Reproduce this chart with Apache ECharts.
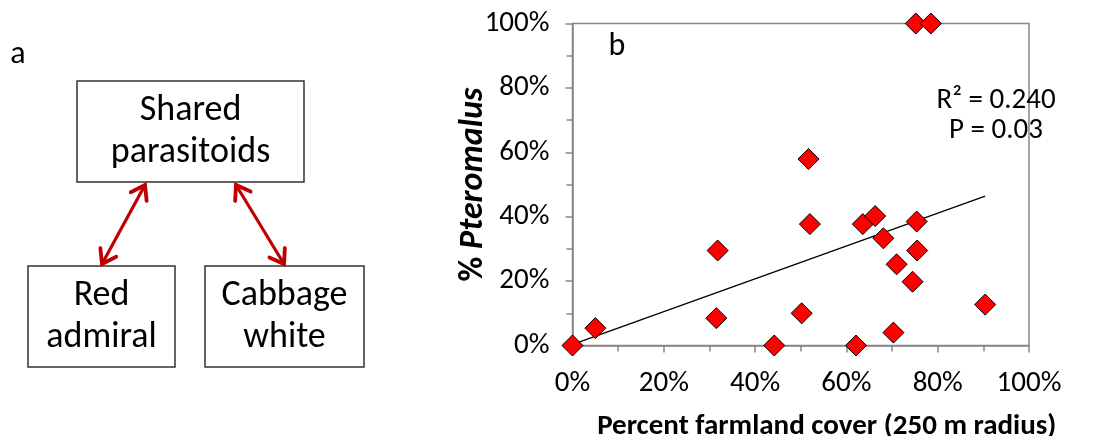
<!DOCTYPE html>
<html>
<head>
<meta charset="utf-8">
<script src="https://cdn.jsdelivr.net/npm/echarts@6/dist/echarts.min.js"></script>
<style>
html,body{margin:0;padding:0;background:#fff;}
#c{width:1113px;height:436px;}
</style>
</head>
<body>
<div id="c"></div>
<script>
// ---- data ----
var farmland = [0.000, 0.050, 0.318, 0.315, 0.442, 0.502, 0.517, 0.520, 0.621, 0.636, 0.663, 0.681, 0.703, 0.710, 0.745, 0.754, 0.755, 0.752, 0.785, 0.904];
var pteromalus = [0.000, 0.054, 0.295, 0.085, 0.000, 0.100, 0.579, 0.377, 0.000, 0.377, 0.402, 0.333, 0.040, 0.252, 0.198, 0.385, 0.295, 1.000, 1.000, 0.127];
var trendX = [0.002, 0.904];
var trendY = [0.004, 0.464];
var xTicks = ['0%', '20%', '40%', '60%', '80%', '100%'];
var yTicks = ['0%', '20%', '40%', '60%', '80%', '100%'];
var statsLines = ['R² = 0.240', 'P = 0.03'];
var panelA = 'a', panelB = 'b';
var boxTop = ['Shared', 'parasitoids'];
var boxLeft = ['Red', 'admiral'];
var boxRight = ['Cabbage', 'white'];
var xTitle = 'Percent farmland cover (250 m radius)';
var yTitlePre = '% ', yTitleItalic = 'Pteromalus';

var FONT = 'Carlito, Lato, sans-serif';
var chart = echarts.init(document.getElementById('c'));

var points = farmland.map(function (x, i) { return [x, pteromalus[i]]; });
var trend = trendX.map(function (x, i) { return [x, trendY[i]]; });

function pctLabel(list) {
  return function (v) { var i = Math.round(v * 5); return list[i] !== undefined ? list[i] : ''; };
}

var RED = '#c00000';
function arrow(x1, y1, x2, y2) {
  var els = [];
  els.push({ type: 'line', shape: { x1: x1, y1: y1, x2: x2, y2: y2 }, style: { stroke: RED, lineWidth: 3.2, lineCap: 'round' } });
  function head(tx, ty, fx, fy) {
    var dx = fx - tx, dy = fy - ty, L = Math.sqrt(dx * dx + dy * dy);
    dx /= L; dy /= L;
    var len = 16, a = 0.6;
    var c = Math.cos(a), s = Math.sin(a);
    var p1 = [tx + len * (dx * c - dy * s), ty + len * (dx * s + dy * c)];
    var p2 = [tx + len * (dx * c + dy * s), ty + len * (-dx * s + dy * c)];
    return { type: 'polyline', shape: { points: [p1, [tx, ty], p2] }, style: { stroke: RED, lineWidth: 3.8, fill: null, lineJoin: 'miter', lineCap: 'round' } };
  }
  els.push(head(x1, y1, x2, y2));
  els.push(head(x2, y2, x1, y1));
  return els;
}

function box(x, y, w, h, lines, fs, gap) {
  var els = [{ type: 'rect', shape: { x: x, y: y, width: w, height: h }, style: { fill: '#fff', stroke: '#333', lineWidth: 1.5 } }];
  var cy = y + h / 2;
  els.push({ type: 'text', x: x + w / 2, y: cy - gap / 2, style: { text: lines[0], fill: '#000', font: fs + 'px ' + FONT, align: 'center', verticalAlign: 'middle' } });
  els.push({ type: 'text', x: x + w / 2, y: cy + gap / 2, style: { text: lines[1], fill: '#000', font: fs + 'px ' + FONT, align: 'center', verticalAlign: 'middle' } });
  return els;
}

var graphics = [];
graphics.push({ type: 'text', x: 18, y: 55, style: { text: panelA, fill: '#000', font: '32px ' + FONT, align: 'center', verticalAlign: 'middle' } });
graphics = graphics.concat(box(77, 81, 227, 101, boxTop, 36, 42));
graphics = graphics.concat(box(28, 266, 147, 101, boxLeft, 36, 42));
graphics = graphics.concat(box(205, 266, 159, 101, boxRight, 36, 42));
graphics = graphics.concat(arrow(145, 185, 102, 264));
graphics = graphics.concat(arrow(236, 185, 284, 264));
graphics.push({ type: 'text', x: 617, y: 47, style: { text: panelB, fill: '#000', font: '32px ' + FONT, align: 'center', verticalAlign: 'middle' } });
graphics.push({ type: 'text', x: 996, y: 101, style: { text: statsLines[0], fill: '#000', font: '29px ' + FONT, align: 'center', verticalAlign: 'middle' } });
graphics.push({ type: 'text', x: 996, y: 131, style: { text: statsLines[1], fill: '#000', font: '29px ' + FONT, align: 'center', verticalAlign: 'middle' } });

var axisGray = '#868686';
chart.setOption({
  animation: false,
  backgroundColor: '#fff',
  grid: { left: 572.5, right: 84, top: 23.5, bottom: 90.5, outerBoundsMode: 'none', containLabel: false, show: true, borderColor: axisGray, borderWidth: 1.5, backgroundColor: 'transparent' },
  xAxis: {
    type: 'value', min: 0, max: 1, interval: 0.2,
    axisLine: { show: true, lineStyle: { color: axisGray, width: 1.5 } },
    axisTick: { show: true, inside: false, length: 7, lineStyle: { color: axisGray, width: 1.5 } },
    minorTick: { show: true, splitNumber: 2, length: 6, lineStyle: { color: axisGray, width: 1.5 } },
    splitLine: { show: false },
    axisLabel: { formatter: pctLabel(xTicks), color: '#000', fontFamily: FONT, fontSize: 29, margin: 24, showMaxLabel: true },
    name: xTitle, nameLocation: 'middle', nameGap: 67, nameMoveOverlap: false,
    nameTextStyle: { color: '#000', fontFamily: FONT, fontSize: 29, fontWeight: 'bold', padding: [0, 0, 0, 52] }
  },
  yAxis: {
    type: 'value', min: 0, max: 1, interval: 0.2,
    axisLine: { show: true, lineStyle: { color: axisGray, width: 1.5 } },
    axisTick: { show: true, inside: false, length: 7, lineStyle: { color: axisGray, width: 1.5 } },
    minorTick: { show: true, splitNumber: 2, length: 6, lineStyle: { color: axisGray, width: 1.5 } },
    splitLine: { show: false },
    axisLabel: { formatter: pctLabel(yTicks), color: '#000', fontFamily: FONT, fontSize: 29, margin: 23 },
    name: '{a|' + yTitlePre + '}{b|' + yTitleItalic + '}', nameLocation: 'middle', nameRotate: 90, nameGap: 82, nameMoveOverlap: false,
    nameTextStyle: {
      color: '#000', fontFamily: FONT, fontSize: 34, fontWeight: 'bold',
      rich: {
        a: { fontFamily: FONT, fontSize: 34, fontWeight: 'bold', color: '#000' },
        b: { fontFamily: FONT, fontSize: 34, fontWeight: 'bold', fontStyle: 'italic', color: '#000' }
      }
    }
  },
  series: [
    {
      type: 'line', data: trend, symbol: 'none', silent: true,
      lineStyle: { color: '#000', width: 1.3 }, z: 2
    },
    {
      type: 'scatter', data: points, symbol: 'diamond', symbolSize: 21,
      itemStyle: { color: '#ff0000', borderColor: '#000', borderWidth: 1, opacity: 1 }, z: 3
    }
  ],
  graphic: graphics
});
</script>
</body>
</html>
